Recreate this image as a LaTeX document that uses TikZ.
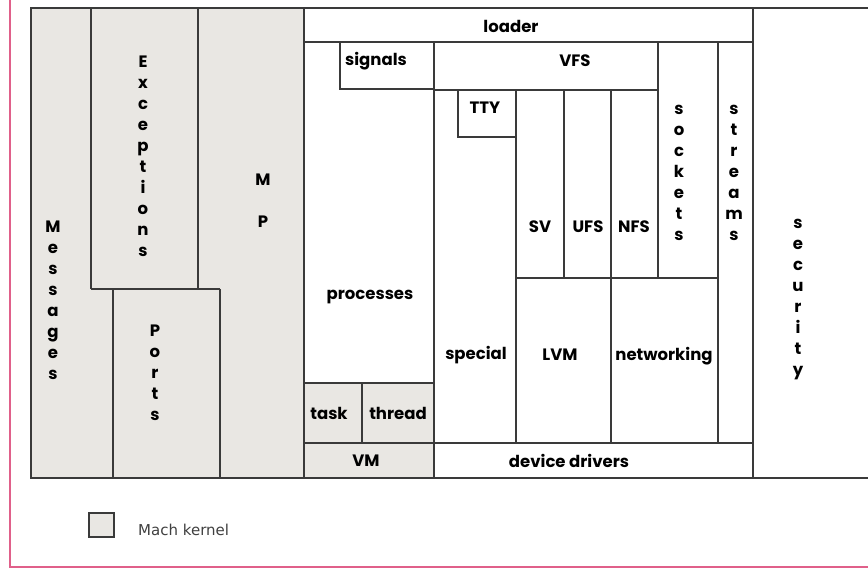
\documentclass[tikz,border=0pt]{standalone}
\usepackage{fontspec}
\setmainfont{Poppins}
\newfontfamily\legendfont{DejaVu Sans}
\definecolor{kgray}{HTML}{E9E7E3}
\definecolor{lineclr}{HTML}{3A3A3A}
\definecolor{pinkclr}{HTML}{E0608A}
\begin{document}
\begin{tikzpicture}[x=1pt,y=-1pt,
  part/.style={draw=lineclr,line width=1.3pt},
  lbl/.style={font=\fontsize{16.5}{21}\selectfont\bfseries,text=black,inner sep=0pt},
  vlbl/.style={lbl,align=center},
  legend/.style={font=\legendfont\fontsize{15}{17}\selectfont,text=black!75,inner sep=0pt,anchor=west}]
\useasboundingbox (0,0) rectangle (868,569);
% pink frame
\draw[pinkclr,line width=2pt] (10,0) -- (10,567) -- (868,567);
% gray fills (Mach kernel)
\fill[kgray] (31,8) rectangle (304,478);
\fill[kgray] (304,383) rectangle (434,478);
% outer frame
\draw[part] (868,8) -- (31,8) -- (31,478) -- (868,478);
% Mach kernel partitions
\draw[part] (91,8) -- (91,289);
\draw[part] (198,8) -- (198,289);
\draw[part] (91,289) -- (220,289);
\draw[part] (113,289) -- (113,478);
\draw[part] (220,289) -- (220,478);
\draw[part] (304,8) -- (304,478);
% upper rows
\draw[part] (304,42) -- (753,42);
\draw[part] (753,8) -- (753,478);
\draw[part] (340,42) -- (340,89) -- (434,89);
\draw[part] (434,42) -- (434,478);
\draw[part] (434,90) -- (658,90);
\draw[part] (658,42) -- (658,278);
\draw[part] (718,42) -- (718,443);
\draw[part] (458,90) -- (458,137) -- (516,137);
\draw[part] (516,90) -- (516,443);
\draw[part] (564,90) -- (564,278);
\draw[part] (611,90) -- (611,443);
\draw[part] (516,278) -- (718,278);
\draw[part] (304,383) -- (434,383);
\draw[part] (362,383) -- (362,443);
\draw[part] (304,443) -- (753,443);
% vertical labels
\node[vlbl] (messages) at (53,300) {M\\e\\s\\s\\a\\g\\e\\s};
\node[vlbl] (exceptions) at (143,156) {E\\x\\c\\e\\p\\t\\i\\o\\n\\s};
\node[vlbl] (mp) at (263,201) {M\\[21pt]P};
\node[vlbl] (ports) at (155,373) {P\\o\\r\\t\\s};
\node[vlbl] (sockets) at (679,173) {s\\o\\c\\k\\e\\t\\s};
\node[vlbl] (streams) at (734,173) {s\\t\\r\\e\\a\\m\\s};
\node[vlbl] (security) at (798,300) {s\\e\\c\\u\\r\\i\\t\\y};
% horizontal labels
\node[lbl] (loader) at (511,26) {loader};
\node[lbl] (signals) at (376,61) {signals};
\node[lbl] (vfs) at (575,61) {VFS};
\node[lbl] (tty) at (485,108) {TTY};
\node[lbl] (sv) at (540,227) {SV};
\node[lbl] (ufs) at (588,227) {UFS};
\node[lbl] (nfs) at (634,227) {NFS};
\node[lbl] (processes) at (370,297) {processes};
\node[lbl] (special) at (476,355) {special};
\node[lbl] (lvm) at (560,355) {LVM};
\node[lbl] (networking) at (664,356) {networking};
\node[lbl] (task) at (329,413) {task};
\node[lbl] (thread) at (398,413) {thread};
\node[lbl] (vm) at (366,461) {VM};
\node[lbl] (drivers) at (569,461) {device drivers};
% legend
\filldraw[fill=kgray,draw=lineclr,line width=1.2pt] (89,513) rectangle (114,537);
\node[legend] (machkernel) at (138,530) {Mach kernel};
\end{tikzpicture}
\end{document}
